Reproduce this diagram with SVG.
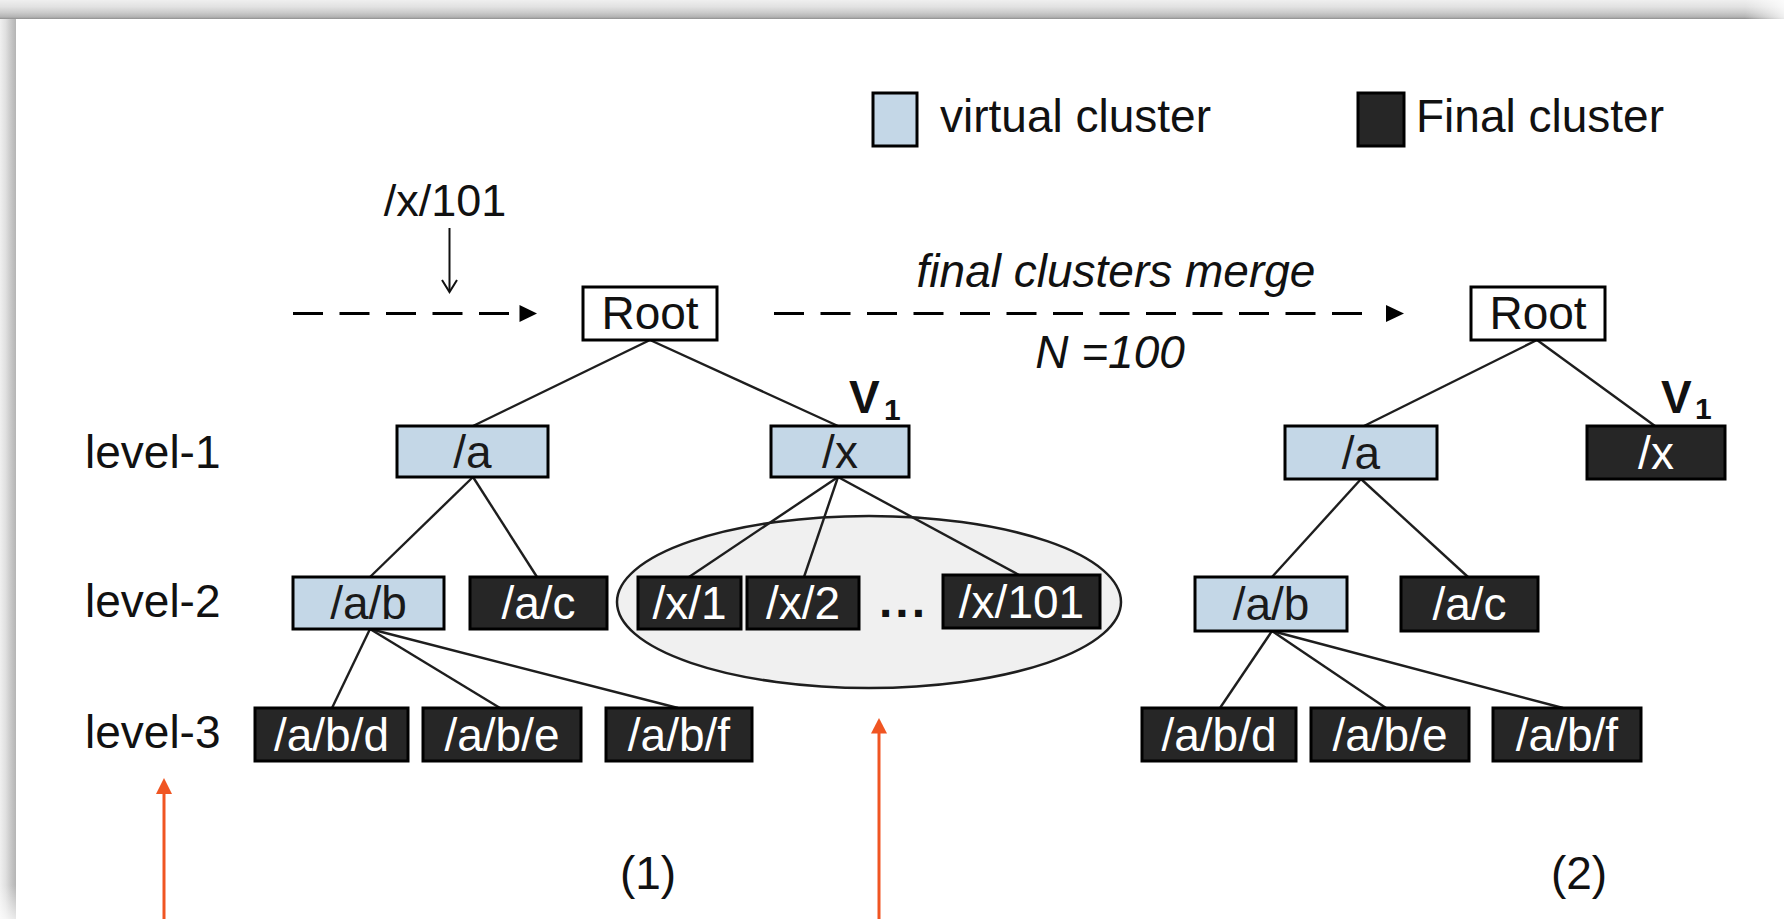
<svg xmlns="http://www.w3.org/2000/svg" width="1784" height="919" viewBox="0 0 1784 919">
  <defs>
    <linearGradient id="shadeTop" x1="0" y1="0" x2="0" y2="1">
      <stop offset="0" stop-color="#efefef"/>
      <stop offset="0.35" stop-color="#e2e2e2"/>
      <stop offset="0.65" stop-color="#cccccc"/>
      <stop offset="0.9" stop-color="#b2b2b2"/>
      <stop offset="1" stop-color="#8e8e8e"/>
    </linearGradient>
    <linearGradient id="shadeLeft" x1="0" y1="0" x2="1" y2="0">
      <stop offset="0" stop-color="#f0f0f0"/>
      <stop offset="0.35" stop-color="#e0e0e0"/>
      <stop offset="0.65" stop-color="#cacaca"/>
      <stop offset="1" stop-color="#b4b4b4"/>
    </linearGradient>
    <linearGradient id="fadeRight" x1="0" y1="0" x2="1" y2="0">
      <stop offset="0" stop-color="#ffffff" stop-opacity="0"/>
      <stop offset="1" stop-color="#ffffff" stop-opacity="0.8"/>
    </linearGradient>
    <linearGradient id="fadeDown" x1="0" y1="0" x2="0" y2="1">
      <stop offset="0" stop-color="#ffffff" stop-opacity="0"/>
      <stop offset="1" stop-color="#ffffff" stop-opacity="0.7"/>
    </linearGradient>
  </defs>
  <style>
    text { font-family: "Liberation Sans", Arial, sans-serif; font-size: 46px; fill: #111111; }
    .lbl { text-anchor: middle; }
    .it { font-style: italic; }
    .bold { font-weight: bold; }
    .virtual rect { fill: #c4d7e7; stroke: #000000; stroke-width: 3; }
    .virtual text { fill: #1a1a1a; text-anchor: middle; }
    .final rect { fill: #262626; stroke: #000000; stroke-width: 3; }
    .final text { fill: #ffffff; text-anchor: middle; }
    .plain rect { fill: #ffffff; stroke: #000000; stroke-width: 3; }
    .plain text { fill: #111111; text-anchor: middle; }
    .edge { stroke: #1e1e1e; stroke-width: 2.4; fill: none; }
    .dash { stroke: #000000; stroke-width: 3; stroke-dasharray: 30 16.5; fill: none; }
    .head { fill: #000000; }
    .orange { stroke: #f05522; stroke-width: 3; fill: none; }
    .orangehead { fill: #f05522; }
  </style>

  <!-- page background and frame shading -->
  <rect x="0" y="0" width="1784" height="919" fill="#ffffff"/>
  <rect x="0" y="0" width="16" height="919" fill="url(#shadeLeft)"/>
  <rect x="0" y="0" width="1784" height="19" fill="url(#shadeTop)"/>
  <rect x="1745" y="0" width="39" height="19" fill="url(#fadeRight)"/>
  <rect x="0" y="885" width="16" height="34" fill="url(#fadeDown)"/>

  <!-- legend -->
  <g id="legend">
    <g class="virtual"><rect x="873" y="93" width="44" height="53"/></g>
    <text x="940" y="132">virtual cluster</text>
    <g class="final"><rect x="1358" y="93" width="46" height="53"/></g>
    <text x="1416" y="132">Final cluster</text>
  </g>

  <!-- level captions -->
  <g id="levels">
    <text x="85" y="468">level-1</text>
    <text x="85" y="617">level-2</text>
    <text x="85" y="748">level-3</text>
  </g>

  <!-- group of /x children -->
  <ellipse id="x-group" cx="869" cy="602" rx="252" ry="86" fill="#f0f0f0" stroke="#1e1e1e" stroke-width="2.5"/>

  <!-- connectors -->
  <g id="connectors">
    <!-- tree (1) -->
    <line class="edge" x1="650" y1="340" x2="473" y2="426"/>
    <line class="edge" x1="650" y1="340" x2="838" y2="426"/>
    <line class="edge" x1="473" y1="477" x2="370" y2="577"/>
    <line class="edge" x1="473" y1="477" x2="537" y2="577"/>
    <line class="edge" x1="838" y1="477" x2="689" y2="577"/>
    <line class="edge" x1="838" y1="477" x2="804" y2="577"/>
    <line class="edge" x1="838" y1="477" x2="1019" y2="575"/>
    <line class="edge" x1="370" y1="629" x2="332" y2="708"/>
    <line class="edge" x1="370" y1="629" x2="500" y2="708"/>
    <line class="edge" x1="370" y1="629" x2="678" y2="708"/>
    <!-- tree (2) -->
    <line class="edge" x1="1537" y1="340" x2="1364" y2="426"/>
    <line class="edge" x1="1537" y1="340" x2="1655" y2="426"/>
    <line class="edge" x1="1361" y1="479" x2="1272" y2="577"/>
    <line class="edge" x1="1361" y1="479" x2="1468" y2="577"/>
    <line class="edge" x1="1272" y1="631" x2="1220" y2="708"/>
    <line class="edge" x1="1272" y1="631" x2="1386" y2="708"/>
    <line class="edge" x1="1272" y1="631" x2="1563" y2="708"/>

    <!-- incoming item -->
    <line x1="449.5" y1="228" x2="449.5" y2="291" stroke="#111111" stroke-width="2"/>
    <polyline points="442,280 449.5,292 457,280" fill="none" stroke="#111111" stroke-width="2"/>

    <!-- dashed flow arrows -->
    <line class="dash" x1="293" y1="313.5" x2="510" y2="313.5"/>
    <path class="head" d="M519.5,305 L537,313.5 L519.5,322 Z"/>
    <line class="dash" x1="774" y1="313.5" x2="1368" y2="313.5"/>
    <path class="head" d="M1386,305 L1404,313.5 L1386,322 Z"/>

    <!-- orange pointers -->
    <line class="orange" x1="164" y1="792" x2="164" y2="919"/>
    <path class="orangehead" d="M164,778 L172,794 L156,794 Z"/>
    <line class="orange" x1="879" y1="731" x2="879" y2="919"/>
    <path class="orangehead" d="M879,718 L887,733.5 L871,733.5 Z"/>
  </g>

  <!-- labels -->
  <text class="lbl" x="445" y="216" style="font-size:45px">/x/101</text>
  <text class="lbl it" x="1116" y="287">final clusters merge</text>
  <text class="lbl it" x="1110" y="368">N =100</text>
  <text class="bold" x="849" y="413">V</text>
  <text class="bold" x="884" y="420" style="font-size:30px">1</text>
  <text class="bold" x="1661" y="413">V</text>
  <text class="bold" x="1695" y="419" style="font-size:30px">1</text>
  <text class="lbl" x="648" y="889">(1)</text>
  <text class="lbl" x="1579" y="889">(2)</text>

  <!-- tree (1) nodes -->
  <g id="root-1" class="plain"><rect x="583" y="287" width="134" height="53"/><text x="650" y="329">Root</text></g>
  <g id="a-1" class="virtual"><rect x="397" y="426" width="151" height="51"/><text x="472.5" y="468">/a</text></g>
  <g id="x-1" class="virtual"><rect x="771" y="426" width="138" height="51"/><text x="840" y="468">/x</text></g>
  <g id="ab-1" class="virtual"><rect x="293" y="577" width="151" height="52"/><text x="368.5" y="619">/a/b</text></g>
  <g id="ac-1" class="final"><rect x="470" y="577" width="137" height="52"/><text x="538.5" y="619">/a/c</text></g>
  <g id="x1-1" class="final"><rect x="638" y="577" width="103" height="52"/><text x="689.5" y="619">/x/1</text></g>
  <g id="x2-1" class="final"><rect x="747" y="577" width="112" height="52"/><text x="803" y="619">/x/2</text></g>
  <text class="bold" x="879" y="617" style="font-size:48px; letter-spacing:3px">...</text>
  <g id="x101-1" class="final"><rect x="943" y="575" width="157" height="53"/><text x="1021.5" y="618">/x/101</text></g>
  <g id="abd-1" class="final"><rect x="255" y="708" width="153" height="53"/><text x="331.5" y="751">/a/b/d</text></g>
  <g id="abe-1" class="final"><rect x="423" y="708" width="158" height="53"/><text x="502" y="751">/a/b/e</text></g>
  <g id="abf-1" class="final"><rect x="606" y="708" width="146" height="53"/><text x="679" y="751">/a/b/f</text></g>

  <!-- tree (2) nodes -->
  <g id="root-2" class="plain"><rect x="1471" y="287" width="134" height="53"/><text x="1538" y="329">Root</text></g>
  <g id="a-2" class="virtual"><rect x="1285" y="426" width="152" height="53"/><text x="1361" y="469">/a</text></g>
  <g id="x-2" class="final"><rect x="1587" y="426" width="138" height="53"/><text x="1656" y="469">/x</text></g>
  <g id="ab-2" class="virtual"><rect x="1195" y="577" width="152" height="54"/><text x="1271" y="620">/a/b</text></g>
  <g id="ac-2" class="final"><rect x="1401" y="577" width="137" height="54"/><text x="1469.5" y="620">/a/c</text></g>
  <g id="abd-2" class="final"><rect x="1142" y="708" width="154" height="53"/><text x="1219" y="751">/a/b/d</text></g>
  <g id="abe-2" class="final"><rect x="1311" y="708" width="158" height="53"/><text x="1390" y="751">/a/b/e</text></g>
  <g id="abf-2" class="final"><rect x="1493" y="708" width="148" height="53"/><text x="1567" y="751">/a/b/f</text></g>
</svg>
